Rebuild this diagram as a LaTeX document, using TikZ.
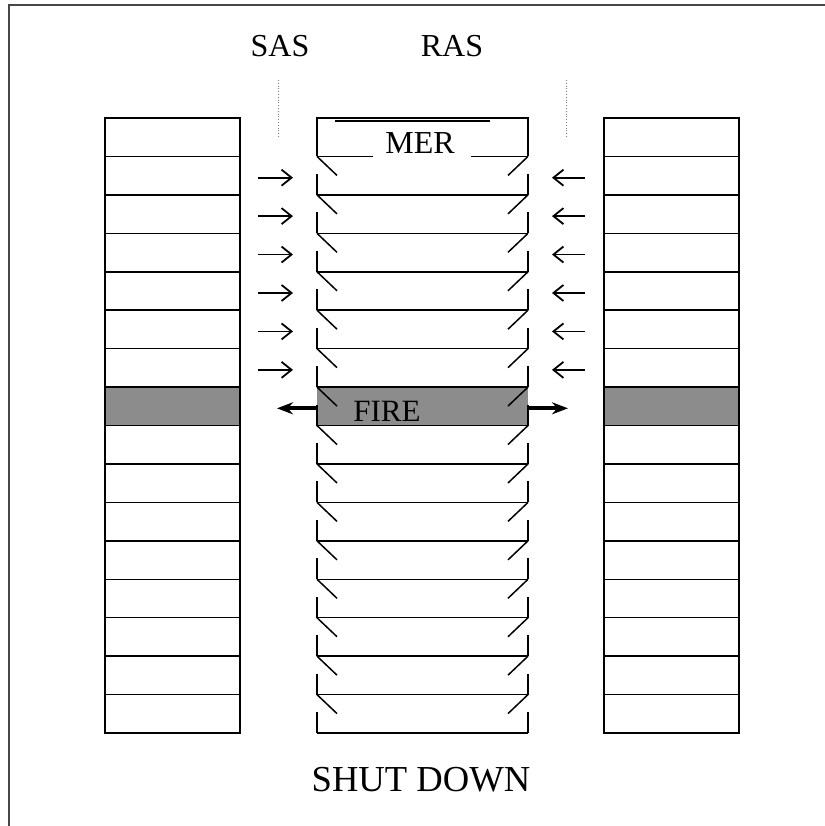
\documentclass[tikz,border=0pt]{standalone}
\usepackage{fontspec}
\setmainfont{Liberation Serif}
\usepackage{tikz}
\usetikzlibrary{arrows.meta,positioning,calc}
\definecolor{grisF}{RGB}{140,140,140}
\definecolor{grisB}{RGB}{70,70,70}
\tikzset{
  cell/.style={rectangle, draw=black, line width=0.75pt, inner sep=0pt, outer sep=0pt,
               minimum width=67.5pt, minimum height=19.22pt},
  feu/.style={cell, fill=grisF},
  bac/.style={rectangle, inner sep=0pt, outer sep=0pt,
              minimum width=105.5pt, minimum height=19.22pt},
  trait/.style={line width=0.75pt},
  pti/.style={-{Straight Barb[length=5pt,width=8pt]}, line width=0.9pt},
  gros/.style={-{Stealth[length=8pt,width=6pt]}, line width=2pt},
  guide/.style={densely dotted, draw=gray, line width=0.4pt},
  lab/.style={font=\fontsize{16}{18}\selectfont, inner sep=0pt},
}

\begin{document}
\begin{tikzpicture}[x=0.5pt, y=-0.5pt]
        \useasboundingbox (0,0) rectangle (825,826);
        \draw[grisB, line width=0.7pt] (825,5) -- (9,5) -- (9,826);
        % side columns
        \node[cell] (L1) at (172.5,137.22) {};
        \node[cell] (R1) at (671.5,137.22) {};
        \node[bac] (M1) at (422.5,137.22) {};
        \foreach \k [remember=\k as \p (initially 1)] in {2,...,16} {
          \ifnum\k=8
            \node[feu, below=0pt of L\p] (L\k) {};
            \node[feu, below=0pt of R\p] (R\k) {};
            \node[bac, fill=grisF, below=0pt of M\p] (M\k) {};
          \else
            \node[cell, below=0pt of L\p] (L\k) {};
            \node[cell, below=0pt of R\p] (R\k) {};
            \node[bac, below=0pt of M\p] (M\k) {};
          \fi
        }
        % MER box
        \draw[trait] (M1.south west) -- (M1.north west) -- (M1.north east) -- (M1.south east);
        \draw[trait] ($(M1.north west)+(18,3)$) -- ++(155,0);
        \draw[trait] (M1.south west) -- ++(56,0);
        \draw[trait] (M1.south east) -- ++(-57,0);
        \node[lab] (mer) at (420,143) {MER};
        % middle column
        \foreach \k in {2,...,16} {
          \ifnum\k>2 \draw[trait] (M\k.north west) -- (M\k.north east); \fi
          \draw[trait] (M\k.north west) -- ++(20,19);
          \draw[trait] (M\k.north east) -- ++(-20,19);
          \draw[trait] (M\k.south west) -- ++(0,-21);
          \draw[trait] (M\k.south east) -- ++(0,-21);
        }
        \draw[trait] (M16.south west) -- (M16.south east);
        \node[lab, font=\fontsize{15.5}{18}\selectfont] (fire) at (387,411) {FIRE};
        % small arrows
        \foreach \k in {2,...,7} {
          \coordinate (a\k) at ($(L\k.east |- M\k)+(18,2)$);
          \coordinate (b\k) at ($(R\k.west |- M\k)+(-19,2)$);
          \draw[pti] (a\k) -- ++(35,0);
          \draw[pti] (b\k) -- ++(-33,0);
        }
        % fire arrows
        \coordinate (fg) at ($(M8.west)+(-40,2)$);
        \coordinate (fd) at ($(M8.east)+(40,2)$);
        \draw[gros] (M8.west |- fg) -- (fg);
        \draw[gros] (M8.east |- fd) -- (fd);
        % labels
        \node[lab] (sas) at (280,46) {SAS};
        \node[lab] (ras) at (452,46) {RAS};
        \draw[guide] (278,80) -- (278,137);
        \draw[guide] (566,80) -- (566,137);
        \node[lab, font=\fontsize{18.3}{20}\selectfont] (stop) at (421,780) {SHUT DOWN};
      \end{tikzpicture}
\end{document}
